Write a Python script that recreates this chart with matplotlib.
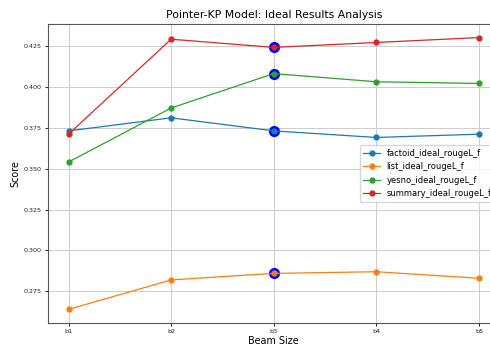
import matplotlib
matplotlib.use("Agg")
import matplotlib.pyplot as plt

beams = ["b1", "b2", "b3", "b4", "b5"]
factoid = [0.373, 0.381, 0.373, 0.369, 0.371]
list_ = [0.264, 0.282, 0.286, 0.287, 0.283]
yesno = [0.354, 0.387, 0.408, 0.403, 0.402]
summary = [0.371, 0.429, 0.424, 0.427, 0.430]
best_idx = 2  # b3 highlighted

series = [
    ("factoid_ideal_rougeL_f", factoid, "tab:blue"),
    ("list_ideal_rougeL_f", list_, "tab:orange"),
    ("yesno_ideal_rougeL_f", yesno, "tab:green"),
    ("summary_ideal_rougeL_f", summary, "tab:red"),
]

fig = plt.figure(figsize=(4.9, 3.45), dpi=100)
ax = fig.add_axes([0.098, 0.0638, 0.9214, 0.8667])

x = list(range(len(beams)))
for name, vals, c in series:
    ax.plot(x[best_idx], vals[best_idx], "o", color="blue", markersize=7, zorder=2)
    ax.plot(x, vals, marker="o", color=c, label=name, linewidth=0.9, markersize=3.5, zorder=3)

ax.set_xticks(x)
ax.set_xticklabels(beams)
ax.set_title("Pointer-KP Model: Ideal Results Analysis", fontsize=7.8, pad=4)
ax.set_xlabel("Beam Size", fontsize=6.9, labelpad=1)
ax.set_ylabel("Score", fontsize=6.9, labelpad=2.5)
ax.tick_params(labelsize=4.6, length=2.5, width=0.6, pad=2, labelcolor="#222222")
ax.grid(True, color="#cccccc", linewidth=0.7)
ax.set_axisbelow(True)
for s in ax.spines.values():
    s.set_linewidth(0.8)
    s.set_color("#555555")
ax.legend(loc="center right", fontsize=6.0, handlelength=2.0, borderpad=0.45, labelspacing=0.55)

fig.savefig("out.png", dpi=100)
